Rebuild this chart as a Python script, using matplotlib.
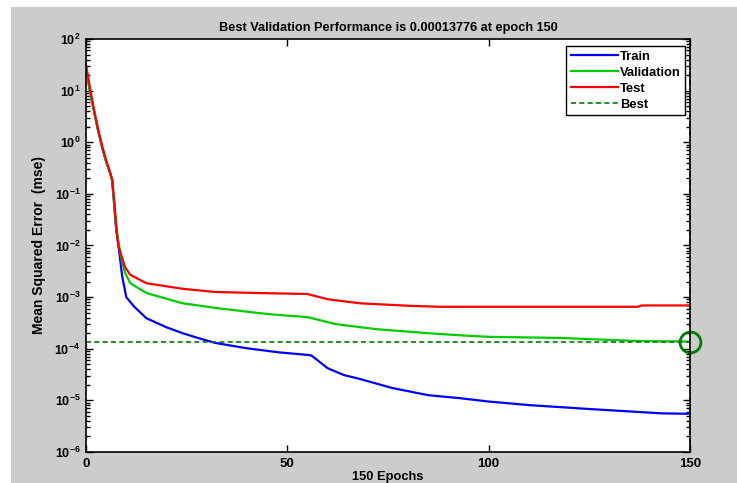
import matplotlib
matplotlib.use("Agg")
import matplotlib.pyplot as plt
from matplotlib.patches import Rectangle
from matplotlib.ticker import FixedLocator, FixedFormatter, LogLocator, NullFormatter

plt.rcParams['font.family'] = ['Liberation Sans', 'DejaVu Sans']
plt.rcParams['mathtext.fontset'] = 'custom'
plt.rcParams['mathtext.rm'] = 'Liberation Sans:bold'
plt.rcParams['mathtext.bf'] = 'Liberation Sans:bold'
plt.rcParams['mathtext.default'] = 'bf'

# ---- data ----
train_epochs = [0, 1, 2, 3, 4, 5, 6, 6.5, 7, 7.5, 8, 9, 10, 12, 15, 20, 24, 28, 32, 40, 48, 55, 56, 60, 64, 68, 76, 85, 93, 100, 110, 125, 143, 150]
train_mse = [29, 10, 4.0, 1.7, 0.8, 0.42, 0.25, 0.18, 0.063, 0.02, 0.011, 2.5e-3, 1.0e-3, 6.5e-4, 3.9e-4, 2.6e-4, 2.0e-4, 1.6e-4, 1.3e-4, 1.02e-4, 8.5e-5, 7.6e-5, 7.4e-5, 4.2e-5, 3.1e-5, 2.6e-5, 1.74e-5, 1.26e-5, 1.1e-5, 9.5e-6, 8.1e-6, 6.8e-6, 5.6e-6, 5.5e-6]

val_epochs = [0, 1, 2, 3, 4, 5, 6, 6.5, 7, 7.5, 8, 8.7, 9.7, 11, 15, 24, 32, 43, 48, 55, 62, 72, 85, 93, 100, 118, 137, 150]
val_mse = [25, 9, 4.0, 1.7, 0.8, 0.42, 0.25, 0.18, 0.063, 0.022, 0.0125, 6.0e-3, 2.95e-3, 1.86e-3, 1.2e-3, 7.6e-4, 6.2e-4, 4.9e-4, 4.5e-4, 4.1e-4, 3.0e-4, 2.4e-4, 2.0e-4, 1.82e-4, 1.7e-4, 1.62e-4, 1.41e-4, 1.3776e-4]

test_epochs = [0, 1, 2, 3, 4, 5, 6, 6.5, 7, 7.5, 8, 9.7, 11, 15, 24, 32, 43, 55, 60, 68, 80, 88, 137, 138, 150]
test_mse = [32, 11, 4.2, 1.8, 0.85, 0.45, 0.26, 0.19, 0.075, 0.025, 0.01, 3.8e-3, 2.7e-3, 1.86e-3, 1.45e-3, 1.26e-3, 1.2e-3, 1.15e-3, 9.1e-4, 7.6e-4, 6.8e-4, 6.5e-4, 6.5e-4, 6.9e-4, 6.9e-4]

best_epoch = 150
best_perf = 0.00013776
n_epochs = 150

x_ticks = [0, 50, 100, 150]
y_exps = [-6, -5, -4, -3, -2, -1, 0, 1, 2]

title_text = "Best Validation Performance is 0.00013776 at epoch 150"
x_label = "150 Epochs"
y_label = "Mean Squared Error  (mse)"
legend_labels = ["Train", "Validation", "Test", "Best"]

# ---- figure ----
W, H = 737, 483
fig = plt.figure(figsize=(W / 100, H / 100), dpi=100, facecolor='white')
fig.patches.append(Rectangle((11 / W, 0), 1 - 11 / W, 1 - 7 / H, transform=fig.transFigure,
                             facecolor='#cccccc', edgecolor='none', zorder=-10))

ax = fig.add_axes([86 / W, 1 - 452 / H, (690 - 86) / W, (452 - 39) / H])
ax.set_facecolor('white')

l1, = ax.plot(train_epochs, train_mse, color='#0000ff', lw=1.6)
l2, = ax.plot(val_epochs, val_mse, color='#00cc00', lw=1.6)
l3, = ax.plot(test_epochs, test_mse, color='#ff0000', lw=1.6)
l4, = ax.plot([0, n_epochs], [best_perf, best_perf], color='#007a00', lw=1.2, ls=(0, (3, 2)))
ax.plot([best_epoch, best_epoch], [1e-6, 1e2], color='#007a00', lw=1.2, ls=(0, (3, 2)), clip_on=False)
ax.plot([best_epoch], [best_perf], marker='o', ms=15, mfc='none', mec='#007a00', mew=2, clip_on=False)

ax.set_yscale('log')
ax.set_xlim(0, n_epochs)
ax.set_ylim(10.0 ** y_exps[0], 10.0 ** y_exps[-1])

ax.xaxis.set_major_locator(FixedLocator(x_ticks))
ax.set_xticklabels([str(t) for t in x_ticks], fontsize=9.5, fontweight='bold')
ax.yaxis.set_major_locator(FixedLocator([10.0 ** e for e in y_exps]))
ax.yaxis.set_major_formatter(FixedFormatter([r'$10^{%d}$' % e for e in y_exps]))
ax.yaxis.set_minor_locator(LogLocator(base=10, subs=range(2, 10), numticks=20))
ax.yaxis.set_minor_formatter(NullFormatter())
for lab in ax.get_yticklabels():
    lab.set_fontsize(9)

ax.tick_params(which='both', direction='in', top=True, right=True, colors='black', width=1)
ax.tick_params(which='major', length=5, pad=4)
ax.tick_params(which='minor', length=3)
for s in ax.spines.values():
    s.set_linewidth(1.2)
    s.set_color('black')

ax.set_title(title_text, fontsize=9.2, fontweight='bold', pad=6)
ax.set_xlabel(x_label, fontsize=9.3, fontweight='bold', labelpad=1)
ax.set_ylabel(y_label, fontsize=10, fontweight='bold', labelpad=6)

leg = ax.legend([l1, l2, l3, l4], legend_labels, loc='upper right', bbox_to_anchor=(0.992, 0.983),
                borderaxespad=0, fancybox=False, framealpha=1, edgecolor='black',
                prop={'size': 9.4, 'weight': 'bold'}, handlelength=3.6, handletextpad=0.15,
                labelspacing=0.3, borderpad=0.35)
leg.get_frame().set_linewidth(1.0)

fig.savefig('out.png', dpi=100, facecolor=fig.get_facecolor())
